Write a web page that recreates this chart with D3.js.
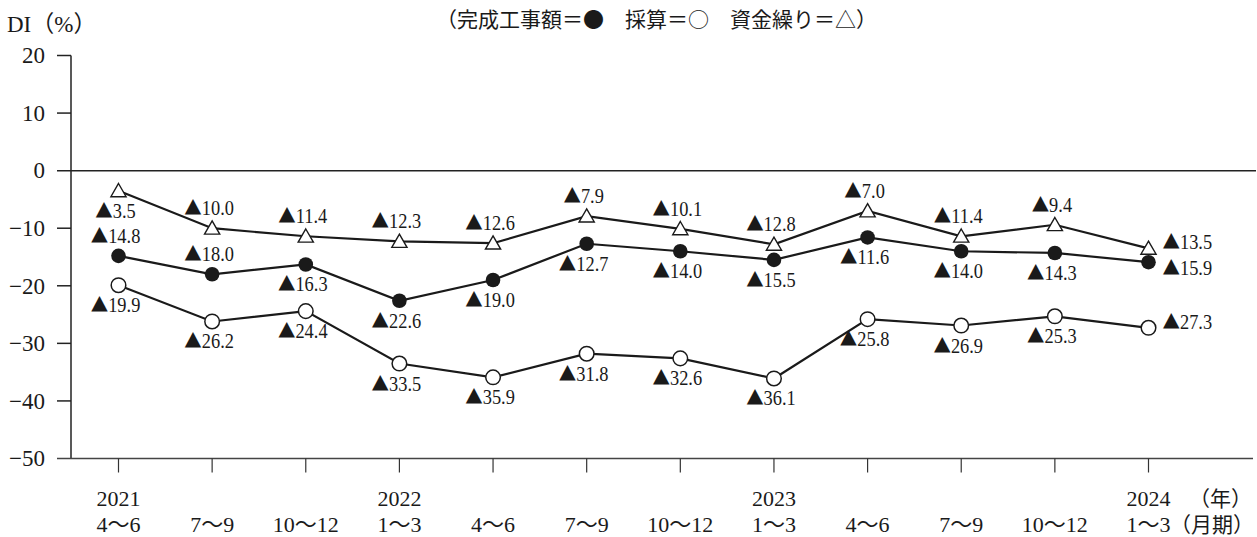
<!DOCTYPE html>
<html>
<head>
<meta charset="utf-8">
<script src="https://cdn.jsdelivr.net/npm/d3@7"></script>
<style>
  body { margin: 0; background: #fff; }
  svg { display: block; }
  text { font-family: "Liberation Serif", "Noto Sans CJK JP", serif; fill: #1a1a1a; }
  .cjk { font-family: "Noto Sans CJK JP", sans-serif; }
</style>
</head>
<body>
<div id="chart"></div>
<script>
// data
var years = ["2021", "", "", "2022", "", "", "", "2023", "", "", "", "2024"];
var periods = ["4〜6", "7〜9", "10〜12", "1〜3", "4〜6", "7〜9", "10〜12", "1〜3", "4〜6", "7〜9", "10〜12", "1〜3"];
var completed = [-14.8, -18.0, -16.3, -22.6, -19.0, -12.7, -14.0, -15.5, -11.6, -14.0, -14.3, -15.9];
var profit = [-19.9, -26.2, -24.4, -33.5, -35.9, -31.8, -32.6, -36.1, -25.8, -26.9, -25.3, -27.3];
var cash = [-3.5, -10.0, -11.4, -12.3, -12.6, -7.9, -10.1, -12.8, -7.0, -11.4, -9.4, -13.5];
var yTicks = [20, 10, 0, -10, -20, -30, -40, -50];

// where each value label sits: a = above, b = below, r = right, rl = right and a bit lower
var cashPos = ["b", "a", "a", "a", "a", "a", "a", "a", "a", "a", "a", "r"];
var completedPos = ["a", "a", "b", "b", "b", "b", "b", "b", "b", "b", "b", "rl"];
var profitPos = ["b", "b", "b", "b", "b", "b", "b", "b", "b", "b", "b", "r"];

var width = 1257, height = 537;

var svg = d3.select("#chart").append("svg")
  .attr("width", width)
  .attr("height", height);

var x = d3.scalePoint()
  .domain(d3.range(periods.length))
  .range([118.5, 1148.5]);

var y = d3.scaleLinear()
  .domain([-50, 20])
  .range([458.5, 55.5]);

var axisX = 71;

// y axis
svg.append("line")
  .attr("x1", axisX).attr("x2", axisX)
  .attr("y1", y(20)).attr("y2", y(-50))
  .attr("stroke", "#222").attr("stroke-width", 1.5);

svg.selectAll(".ytick")
  .data(yTicks)
  .enter().append("line")
  .attr("class", "ytick")
  .attr("x1", 57)
  .attr("x2", function(d) { return d === 0 ? 1256 : (d === -50 ? 1253 : axisX); })
  .attr("y1", function(d) { return y(d); })
  .attr("y2", function(d) { return y(d); })
  .attr("stroke", function(d) { return d === -50 ? "#444" : "#222"; })
  .attr("stroke-width", 1.5);

var fmt = d3.format("d");
svg.selectAll(".ylabel")
  .data(yTicks)
  .enter().append("text")
  .attr("class", "ylabel")
  .attr("x", 45)
  .attr("y", function(d) { return y(d); })
  .attr("dy", "0.34em")
  .attr("text-anchor", "end")
  .style("font-size", "23px")
  .text(function(d) { return fmt(d); });

svg.append("text")
  .attr("x", 7).attr("y", 32)
  .style("font-size", "23px")
  .text("DI（%）");

// x ticks and labels
svg.selectAll(".xtick")
  .data(periods)
  .enter().append("line")
  .attr("class", "xtick")
  .attr("x1", function(d, i) { return x(i); })
  .attr("x2", function(d, i) { return x(i); })
  .attr("y1", y(-50))
  .attr("y2", y(-50) + 14)
  .attr("stroke", "#333").attr("stroke-width", 1.2);

svg.selectAll(".year")
  .data(years)
  .enter().append("text")
  .attr("class", "year")
  .attr("x", function(d, i) { return x(i); })
  .attr("y", 506)
  .attr("text-anchor", "middle")
  .style("font-size", "22px")
  .text(function(d) { return d; });

svg.selectAll(".period")
  .data(periods)
  .enter().append("text")
  .attr("class", "period")
  .attr("x", function(d, i) { return x(i); })
  .attr("y", 532)
  .attr("text-anchor", "middle")
  .style("font-size", "22px")
  .text(function(d) { return d; });

svg.append("text")
  .attr("x", 1252).attr("y", 506)
  .attr("text-anchor", "end")
  .style("font-size", "21px")
  .text("（年）");

svg.append("text")
  .attr("x", 1254).attr("y", 532)
  .attr("text-anchor", "end")
  .style("font-size", "21px")
  .text("（月期）");

// legend
svg.append("text")
  .attr("class", "cjk")
  .attr("x", 436).attr("y", 27)
  .style("font-size", "21px")
  .text("（完成工事額＝●　採算＝○　資金繰り＝△）");

// series
var line = d3.line()
  .x(function(d, i) { return x(i); })
  .y(function(d) { return y(d); });

[cash, completed, profit].forEach(function(values) {
  svg.append("path")
    .datum(values)
    .attr("d", line)
    .attr("fill", "none")
    .attr("stroke", "#1a1a1a")
    .attr("stroke-width", 2.2);
});

svg.selectAll(".dot-completed")
  .data(completed)
  .enter().append("circle")
  .attr("class", "dot-completed")
  .attr("cx", function(d, i) { return x(i); })
  .attr("cy", function(d) { return y(d); })
  .attr("r", 7.3)
  .attr("fill", "#1a1a1a");

svg.selectAll(".dot-profit")
  .data(profit)
  .enter().append("circle")
  .attr("class", "dot-profit")
  .attr("cx", function(d, i) { return x(i); })
  .attr("cy", function(d) { return y(d); })
  .attr("r", 7.3)
  .attr("fill", "#fff")
  .attr("stroke", "#1a1a1a")
  .attr("stroke-width", 1.5);

var tri = d3.symbol().type(d3.symbolTriangle).size(100);
svg.selectAll(".dot-cash")
  .data(cash)
  .enter().append("path")
  .attr("class", "dot-cash")
  .attr("d", tri)
  .attr("transform", function(d, i) { return "translate(" + x(i) + "," + (y(d) + 1.5) + ")"; })
  .attr("fill", "#fff")
  .attr("stroke", "#1a1a1a")
  .attr("stroke-width", 1.4);

// value labels
var offsets = {
  a: { dx: -3, dy: -13, anchor: "middle" },
  b: { dx: -3, dy: 27, anchor: "middle" },
  r: { dx: 14, dy: 1, anchor: "start" },
  rl: { dx: 14, dy: 13, anchor: "start" }
};

function addLabels(values, pos, cls) {
  var t = svg.selectAll("." + cls)
    .data(values)
    .enter().append("text")
    .attr("class", cls)
    .attr("text-anchor", function(d, i) { return offsets[pos[i]].anchor; })
    .attr("transform", function(d, i) {
      var o = offsets[pos[i]];
      return "translate(" + (x(i) + o.dx) + "," + (y(d) + o.dy) + ") scale(0.92,1)";
    })
    .style("font-size", "20px");

  // negative values are written with a black triangle in front
  t.append("tspan")
    .attr("class", "cjk")
    .style("font-size", "19px")
    .text(function(d) { return d < 0 ? "▲" : ""; });
  t.append("tspan")
    .text(function(d) { return d3.format(".1f")(Math.abs(d)); });
}

addLabels(cash, cashPos, "lab-cash");
addLabels(completed, completedPos, "lab-completed");
addLabels(profit, profitPos, "lab-profit");
</script>
</body>
</html>
